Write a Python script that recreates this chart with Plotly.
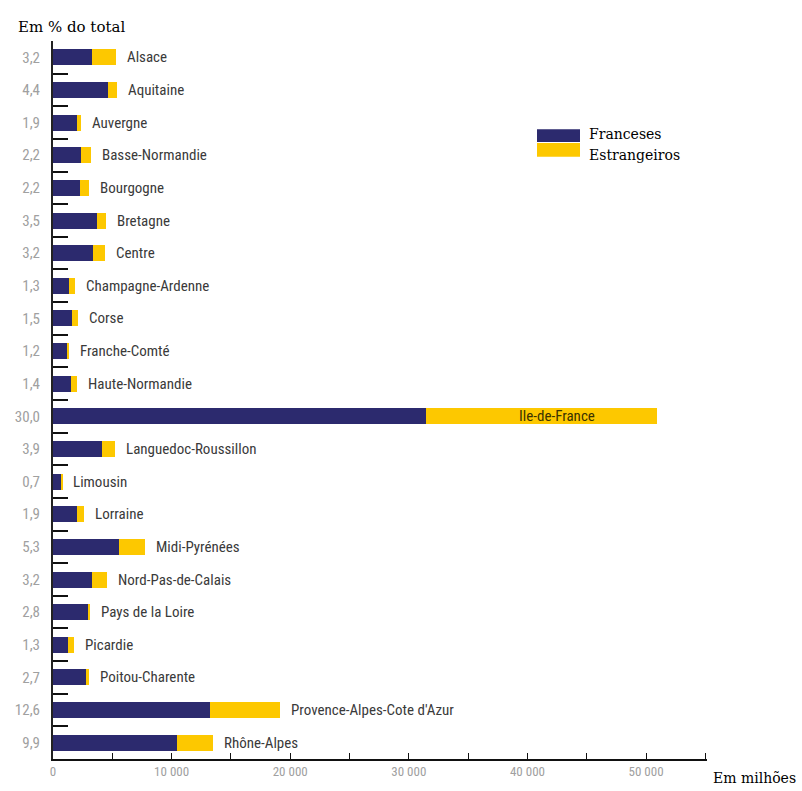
import plotly.graph_objects as go

regions = ["Alsace", "Aquitaine", "Auvergne", "Basse-Normandie", "Bourgogne", "Bretagne",
           "Centre", "Champagne-Ardenne", "Corse", "Franche-Comté", "Haute-Normandie",
           "Ile-de-France", "Languedoc-Roussillon", "Limousin", "Lorraine", "Midi-Pyrénées",
           "Nord-Pas-de-Calais", "Pays de la Loire", "Picardie", "Poitou-Charente",
           "Provence-Alpes-Cote d'Azur", "Rhône-Alpes"]
pct_labels = ["3,2", "4,4", "1,9", "2,2", "2,2", "3,5", "3,2", "1,3", "1,5", "1,2", "1,4",
              "30,0", "3,9", "0,7", "1,9", "5,3", "3,2", "2,8", "1,3", "2,7", "12,6", "9,9"]
franceses = [3300, 4650, 2000, 2350, 2300, 3700, 3350, 1350, 1600, 1250, 1500,
             31450, 4150, 750, 2000, 5550, 3300, 2950, 1250, 2800, 13250, 10450]
estrangeiros = [2000, 750, 350, 850, 750, 750, 1000, 500, 500, 100, 500,
                19500, 1100, 50, 600, 2200, 1250, 200, 500, 250, 5900, 3050]
x_tickvals = [0, 10000, 20000, 30000, 40000, 50000]
x_ticktext = ["0", "10 000", "20 000", "30 000", "40 000", "50 000"]

NAVY = "#2c2a6e"
YELLOW = "#fdc800"
SANS = "Liberation Sans Narrow, Roboto Condensed, Liberation Sans, Arial, sans-serif"
SERIF = "DejaVu Serif, serif"

W, H = 802, 791
L, R, T, B = 53, 95, 41, 25
pw, ph = W - L - R, H - T - B


def px_x(p):
    return (p - L) / pw


def px_y(p):
    return 1 - (p - T) / ph


fig = go.Figure()
fig.add_trace(go.Bar(y=regions, x=franceses, orientation="h", name="Franceses",
                     marker=dict(color=NAVY, line=dict(width=0))))
fig.add_trace(go.Bar(y=regions, x=estrangeiros, orientation="h", name="Estrangeiros",
                     marker=dict(color=YELLOW, line=dict(width=0))))

annotations = []
for r, f, e in zip(regions, franceses, estrangeiros):
    if r == "Ile-de-France":
        annotations.append(dict(x=f + e / 2, y=r, xref="x", yref="y", text=r,
                                showarrow=False, xanchor="center", xshift=15,
                                font=dict(family=SANS, size=15, color="#3a3300")))
    else:
        annotations.append(dict(x=f + e, y=r, xref="x", yref="y", text=r,
                                showarrow=False, xanchor="left", xshift=9,
                                font=dict(family=SANS, size=15, color="#3a3a3a")))

annotations += [
    dict(text="Em % do total", x=px_x(16), y=px_y(27)),
    dict(text="Em milhões", x=px_x(711), y=px_y(785)),
    dict(text="Franceses", x=px_x(587), y=px_y(135)),
    dict(text="Estrangeiros", x=px_x(587), y=px_y(156)),
]
for a in annotations[-4:]:
    a.update(xref="paper", yref="paper", showarrow=False, xanchor="left", yanchor="middle",
             font=dict(family=SERIF, size=15, color="#000"))
annotations[-2]["font"] = dict(family=SERIF, size=14, color="#000")
annotations[-1]["font"] = dict(family=SERIF, size=14, color="#000")
annotations[-3]["font"] = dict(family=SERIF, size=14, color="#000")

shapes = [
    dict(type="rect", xref="paper", yref="paper", x0=px_x(537), x1=px_x(580),
         y0=px_y(143), y1=px_y(130), fillcolor=NAVY, line=dict(width=0)),
    dict(type="rect", xref="paper", yref="paper", x0=px_x(537), x1=px_x(580),
         y0=px_y(158), y1=px_y(144), fillcolor=YELLOW, line=dict(width=0)),
]

fig.update_layout(
    width=W, height=H,
    margin=dict(l=L, r=R, t=T, b=B),
    barmode="stack", bargap=0.51,
    plot_bgcolor="white", paper_bgcolor="white",
    showlegend=False,
    annotations=annotations, shapes=shapes,
    xaxis=dict(range=[0, 55140], tickvals=x_tickvals, ticktext=x_ticktext,
               showgrid=False, zeroline=False, showline=True, linecolor="#111", linewidth=1.5,
               ticks="inside", ticklen=6, tickcolor="#111", tickwidth=1.2,
               minor=dict(dtick=5000, tick0=0, ticks="inside", ticklen=6, tickcolor="#111",
                          tickwidth=1.2, showgrid=False),
               tickfont=dict(family=SANS, size=13, color="#a0a0a0")),
    yaxis=dict(type="category", autorange="reversed", tickvals=regions, ticktext=pct_labels,
               tickson="boundaries", ticks="inside", ticklen=15, tickwidth=2, tickcolor="#111",
               showline=True, linecolor="#222", linewidth=2, showgrid=False, zeroline=False,
               ticklabelstandoff=8,
               tickfont=dict(family=SANS, size=15, color="#a0a0a0")),
)

fig.write_html("out.html", config={"displayModeBar": False},
               post_script="document.body.style.margin='0';")
